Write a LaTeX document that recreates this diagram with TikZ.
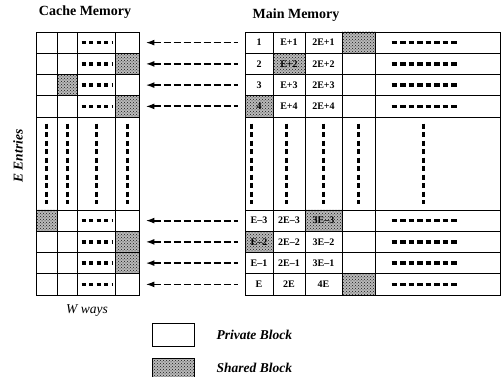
\documentclass[tikz,border=0pt]{standalone}
\usepackage{fontspec}
\setmainfont{Liberation Serif}
\usetikzlibrary{arrows.meta, patterns, positioning}

\begin{document}
\begin{tikzpicture}[x=1pt, y=-1pt,
    cell/.style={draw, line width=0.9pt, inner sep=0pt, minimum height=21.25pt,
      font=\bfseries\fontsize{10}{10}\selectfont},
    shared/.style={preaction={fill=gray!55}, pattern=crosshatch dots, pattern color=black!90},
    hdots/.style={line width=3.6pt, dash pattern=on 4pt off 3.5pt},
    vdots/.style={line width=3pt, dash pattern=on 5pt off 3.5pt},
    fetch/.style={{Latex[length=9pt,width=6pt]}-, line width=1.8pt, dash pattern=on 7pt off 3pt},
    title/.style={font=\bfseries\fontsize{14}{14}\selectfont},
    legend/.style={font=\bfseries\itshape\fontsize{13.5}{13.5}\selectfont, inner sep=0pt},
    % shared blocks in the cache
    c2-4/.style={shared}, c3-2/.style={shared}, c4-4/.style={shared},
    c5-1/.style={shared}, c6-4/.style={shared}, c7-4/.style={shared},
    % shared blocks in main memory
    m1-4/.style={shared}, m2-2/.style={shared}, m4-1/.style={shared},
    m5-3/.style={shared}, m6-1/.style={shared}, m8-4/.style={shared}]
    \useasboundingbox (0,0) rectangle (501,377);
    % Titles
    \node[title] (cachetitle) at (85,12) {Cache Memory};
    \node[title] (maintitle) at (296,15) {Main Memory};
    % Cache rows
    \foreach \r/\y in {1/42.6, 2/63.9, 3/85.1, 4/106.4, 5/220.6, 6/241.9, 7/263.1, 8/284.4} {
        \foreach \k/\x/\w in {1/46.5/21, 2/67/20, 3/96/38, 4/127/24}
            \node[cell, minimum width=\w pt, c\r-\k/.try] (c\r-\k) at (\x,\y) {};
        \draw[hdots] ([xshift=5pt]c\r-3.west) -- ([xshift=-3pt]c\r-3.east);
    }
    % Main memory rows
    \foreach \r/\y/\a/\b/\c in {1/42.6/1/E+1/2E+1, 2/63.9/2/E+2/2E+2, 3/85.1/3/E+3/2E+3,
        4/106.4/4/E+4/2E+4, 5/220.6/E--3/2E--3/3E--3, 6/241.9/E--2/2E--2/3E--2,
        7/263.1/E--1/2E--1/3E--1, 8/284.4/E/2E/4E} {
        \foreach \k/\x/\w/\t in {1/259/28/\a, 2/289/32/\b, 3/323.5/37/\c, 4/358.5/33/{}, 5/437.5/125/{}}
            \node[cell, minimum width=\w pt, m\r-\k/.try] (m\r-\k) at (\x,\y) {\t};
        \draw[hdots, dash pattern=on 5.5pt off 3pt] ([xshift=17pt]m\r-5.west) -- ++(66,0);
    }
    % Middle parts
    \foreach \k/\x/\w in {1/46.5/21, 2/67/20, 3/96/38, 4/127/24} {
        \node[cell, minimum width=\w pt, minimum height=93pt] (cm\k) at (\x,163.5) {};
        \draw[vdots] ([yshift=-7pt]cm\k.north) -- ([yshift=6pt]cm\k.south);
    }
    \foreach \k/\x/\w/\dx in {1/259/28/-8, 2/289/32/-3, 3/323.5/37/0, 4/358.5/33/0, 5/437.5/125/-14} {
        \node[cell, minimum width=\w pt, minimum height=93pt] (mm\k) at (\x,163.5) {};
        \draw[vdots] ([xshift=\dx pt, yshift=-7pt]mm\k.north) -- ([xshift=\dx pt, yshift=6pt]mm\k.south);
    }
    % Mapping arrows
    \foreach \r in {1,...,8}
        \draw[fetch] ([xshift=6pt]c\r-4.east) -- ([xshift=-7pt]m\r-1.west);
    % Axis labels
    \node[rotate=90, font=\bfseries\itshape\fontsize{13.5}{13.5}\selectfont] (entries) at (18,156) {E Entries};
    \node[font=\itshape\fontsize{13.5}{13.5}\selectfont] (ways) at (87,311) {W ways};
    % Legend
    \node[cell, minimum width=42pt, minimum height=23pt] (privbox) at (173,334.5) {};
    \node[cell, shared, minimum width=42pt, minimum height=20pt] (sharbox) at (173,368) {};
    \node[legend, right=22pt of privbox] (privtext) {Private Block};
    \node[legend, right=22pt of sharbox] (shartext) {Shared Block};
\end{tikzpicture}
\end{document}
